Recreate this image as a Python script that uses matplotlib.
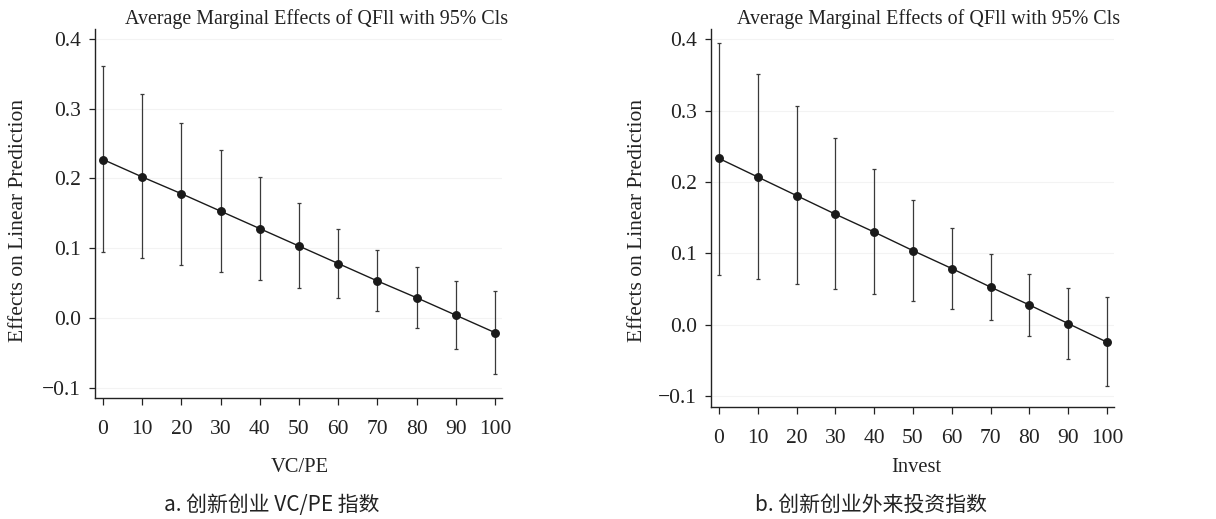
import matplotlib
matplotlib.use("Agg")
import matplotlib.pyplot as plt
from matplotlib.ticker import FuncFormatter

# ---- data ----
x_levels = [0, 10, 20, 30, 40, 50, 60, 70, 80, 90, 100]

a_effect = [0.227, 0.202, 0.178, 0.153, 0.128, 0.103, 0.078, 0.053, 0.029, 0.004, -0.021]
a_upper = [0.361, 0.321, 0.280, 0.241, 0.202, 0.164, 0.128, 0.098, 0.073, 0.053, 0.039]
a_lower = [0.095, 0.086, 0.076, 0.066, 0.055, 0.043, 0.029, 0.010, -0.014, -0.045, -0.080]

b_effect = [0.233, 0.207, 0.181, 0.155, 0.130, 0.104, 0.079, 0.053, 0.028, 0.002, -0.024]
b_upper = [0.395, 0.351, 0.306, 0.262, 0.218, 0.175, 0.135, 0.099, 0.071, 0.052, 0.039]
b_lower = [0.070, 0.064, 0.057, 0.050, 0.043, 0.034, 0.022, 0.007, -0.016, -0.048, -0.086]

y_ticks = [-0.1, 0.0, 0.1, 0.2, 0.3, 0.4]
title_text = "Average Marginal Effects of QFll with 95% Cls"
y_label = "Effects on Linear Prediction"
x_label_a = "VC/PE"
x_label_b = "Invest"
caption_a = "a. 创新创业 VC/PE 指数"
caption_b = "b. 创新创业外来投资指数"

SERIF = ["Liberation Serif", "DejaVu Serif"]
CJK = ["Noto Sans CJK SC", "DejaVu Sans"]

W, H = 1216, 519
fig = plt.figure(figsize=(W / 100, H / 100), dpi=100)
fig.patch.set_facecolor("white")


def fmt(v, pos):
    s = f"{v:.1f}"
    if s.startswith("-"):
        s = "\u2212" + s[1:]
    return s


def panel(rect, eff, up, lo, xlabel, caption, cap_x, ylab_x, xlab_y, tpad):
    ax = fig.add_axes(rect)
    yerr = [[e - l for e, l in zip(eff, lo)], [u - e for u, e in zip(up, eff)]]
    ax.errorbar(x_levels, eff, yerr=yerr, fmt="none", ecolor="#3a3a3a",
                elinewidth=0.9, capsize=1.6, capthick=0.9, zorder=2)
    ax.plot(x_levels, eff, color="#1a1a1a", lw=1.0, marker="o", ms=5.4,
            mfc="#1a1a1a", mec="#1a1a1a", zorder=3)
    ax.set_xlim(-2.05, 101.8)
    ax.set_ylim(-0.1147, 0.414)
    ax.set_xticks(x_levels)
    ax.set_yticks(y_ticks)
    ax.yaxis.set_major_formatter(FuncFormatter(fmt))
    ax.grid(axis="y", color="#f3f3f3", lw=0.8)
    ax.set_axisbelow(True)
    for s in ["top", "right"]:
        ax.spines[s].set_visible(False)
    for s in ["left", "bottom"]:
        ax.spines[s].set_linewidth(1.0)
        ax.spines[s].set_color("#222222")
    ax.tick_params(axis="x", direction="out", length=5, width=0.9, pad=tpad,
                   labelsize=15.5, colors="#222222")
    ax.tick_params(axis="y", direction="out", length=4, width=0.9, pad=6,
                   labelsize=15.5, colors="#222222")
    for lab in ax.get_xticklabels() + ax.get_yticklabels():
        lab.set_family(SERIF)
    # title, right-aligned
    ax.text(1.015, 1.0, title_text, transform=ax.transAxes, ha="right",
            va="bottom", fontsize=14.4, family=SERIF, color="#222222")
    # labels in figure coords
    fig.text(ylab_x / W, 1 - 220 / H, y_label, rotation=90, ha="center",
             va="center", fontsize=15.5, family=SERIF, color="#222222")
    fig.text(cap_x[0] / W, 1 - xlab_y / H, xlabel, ha="center", va="center",
             fontsize=14.8, family=SERIF, color="#222222")
    fig.text(cap_x[1] / W, 1 - 505 / H, caption, ha="center", va="center",
             fontsize=15, family=CJK, color="#222222")
    return ax


panel([95 / W, 1 - 398 / H, 407 / W, 369 / H], a_effect, a_upper, a_lower,
      x_label_a, caption_a, (300, 272), 19, 467, 11)
panel([711 / W, 1 - 407 / H, 403 / W, 378 / H], b_effect, b_upper, b_lower,
      x_label_b, caption_b, (916, 871), 637, 468, 11)

fig.savefig("out.png", dpi=100, facecolor="white")
